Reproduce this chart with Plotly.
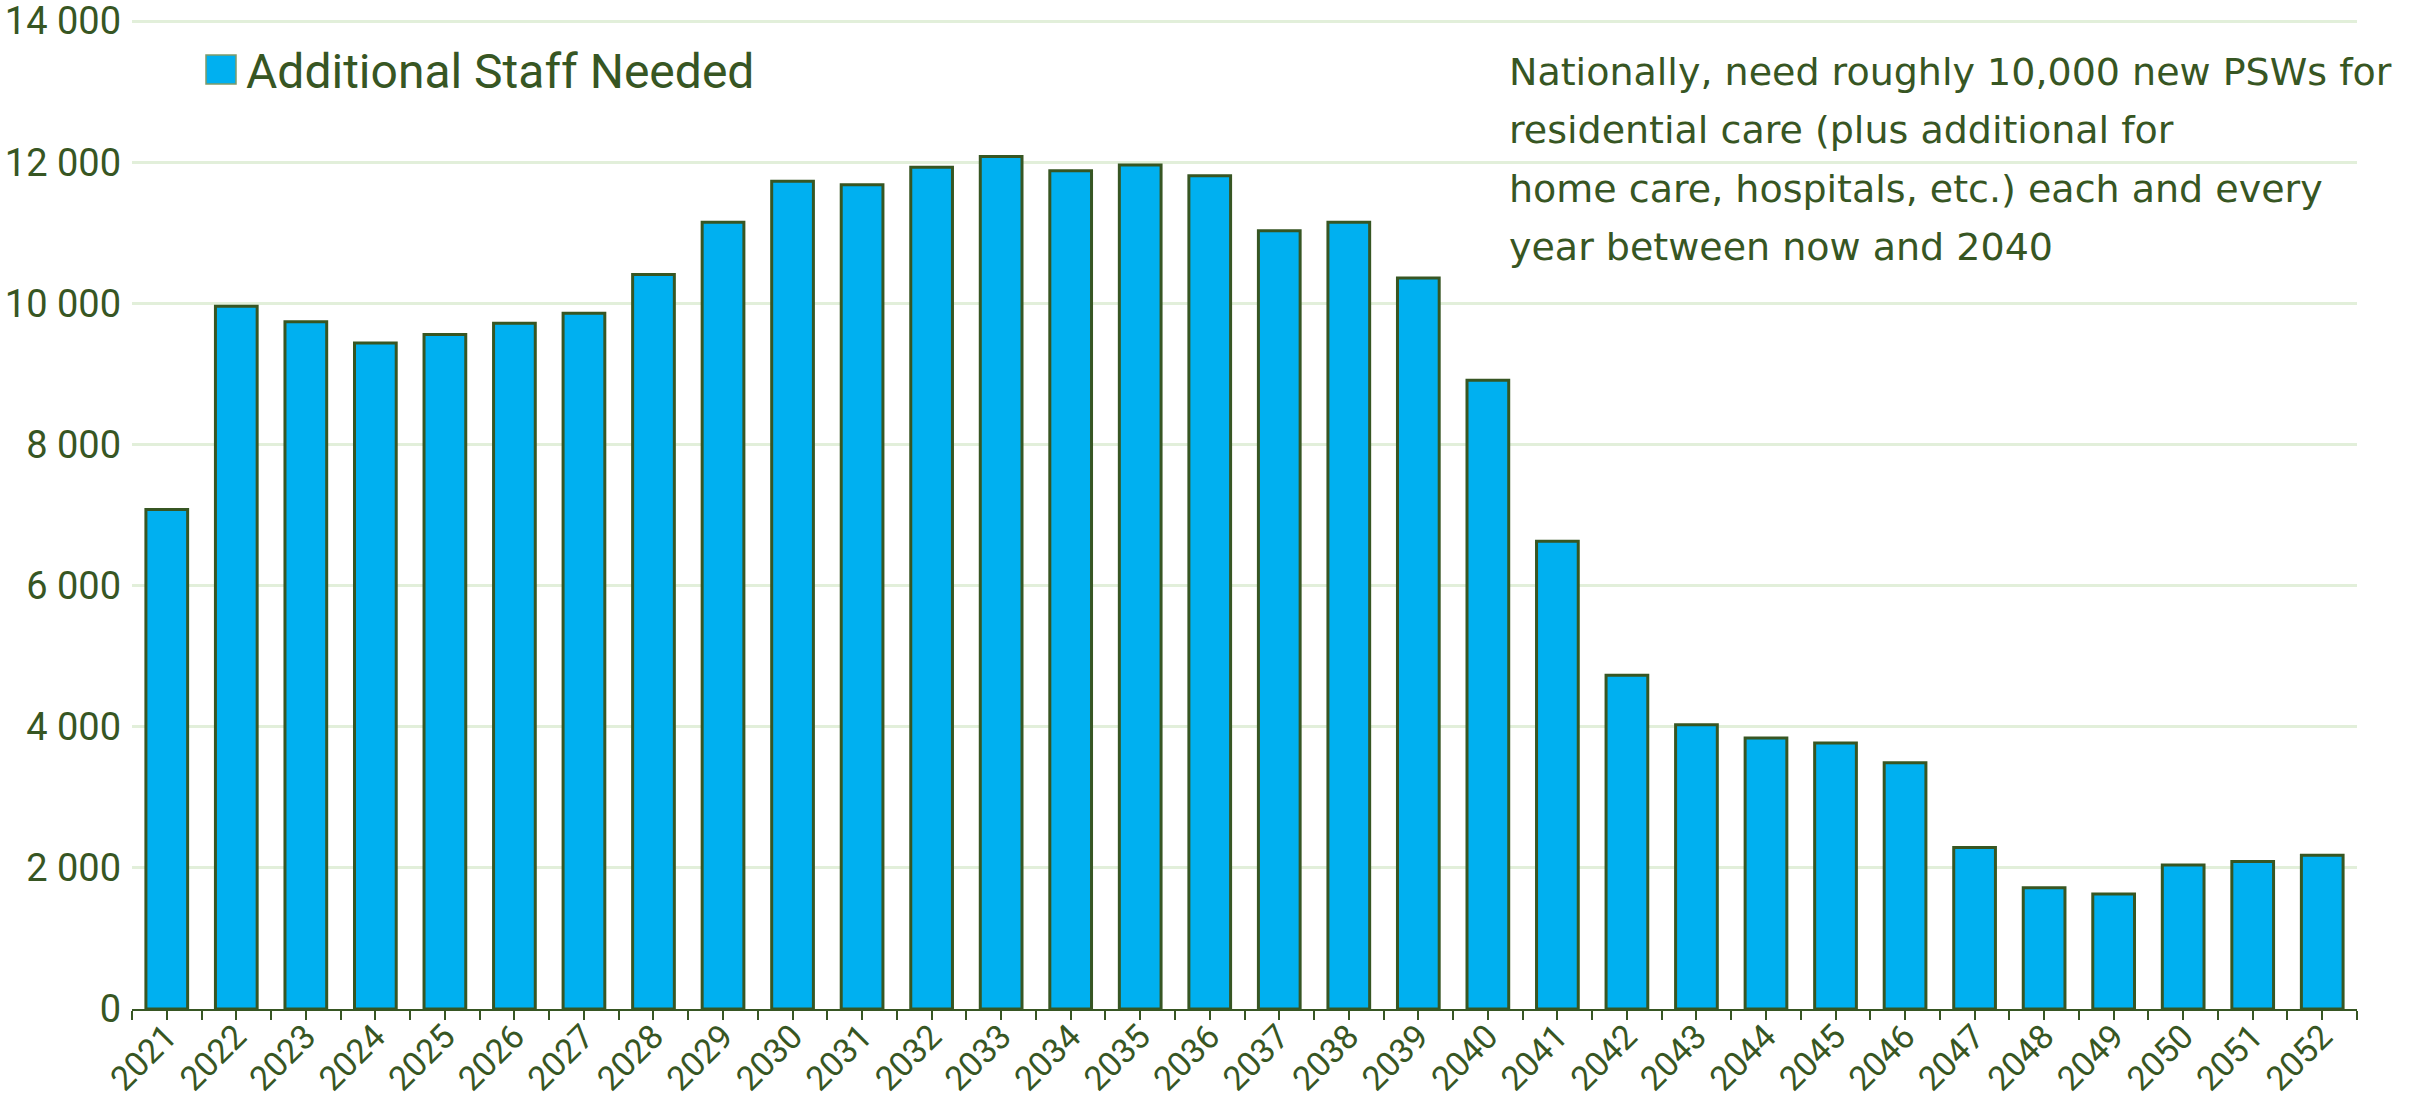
import plotly.graph_objects as go

# Projected additional personal support workers needed per year
years = list(range(2021, 2053))
additional_staff = [
    7080, 9960, 9740, 9440, 9560, 9720, 9860, 10410,
    11150, 11730, 11680, 11930, 12080, 11880, 11960, 11810,
    11030, 11150, 10360, 8910, 6630, 4730, 4030, 3840,
    3770, 3490, 2290, 1720, 1630, 2040, 2090, 2180,
]
series_name = "Additional Staff Needed"
note_lines = [
    "Nationally, need roughly 10,000 new PSWs for",
    "residential care (plus additional for",
    "home care, hospitals, etc.) each and every",
    "year between now and 2040",
]
y_ticks = [0, 2000, 4000, 6000, 8000, 10000, 12000, 14000]
y_max = 14030

# Page geometry
W, H = 2429, 1107
M_L, M_R, M_T, M_B = 132, 72, 19, 98
plot_h = H - M_T - M_B
plot_w = W - M_L - M_R

DARK_GREEN = "#375623"
BAR_BLUE = "#00B0F0"
GRID_GREEN = "#E2EFDA"
TICK_FONT = "Roboto, 'Open Sans', sans-serif"
NOTE_FONT = "'DejaVu Sans', 'Open Sans', sans-serif"


def py(px):
    """Convert a pixel row on the page to paper y."""
    return (H - M_B - px) / plot_h


def pxx(px):
    """Convert a pixel column on the page to paper x."""
    return (px - M_L) / plot_w


x_range = [years[0] - 0.5, years[-1] + 0.5]

fig = go.Figure()
fig.add_trace(go.Bar(
    x=years,
    y=additional_staff,
    name=series_name,
    marker=dict(color=BAR_BLUE, line=dict(color=DARK_GREEN, width=3)),
    showlegend=False,
    hoverinfo="x+y",
))

fig.update_layout(
    width=W,
    height=H,
    margin=dict(l=M_L, r=M_R, t=M_T, b=M_B, pad=0, autoexpand=False),
    paper_bgcolor="white",
    plot_bgcolor="white",
    bargap=0.4,
    separators=". ",
    font=dict(family=TICK_FONT, color=DARK_GREEN),
    xaxis=dict(
        range=x_range,
        tickmode="array",
        tickvals=years,
        ticktext=[str(y) for y in years],
        tickangle=-45,
        tickfont=dict(size=34, color=DARK_GREEN, family=TICK_FONT),
        ticklabelstandoff=-17,
        ticklabeloverflow="allow",
        ticks="outside",
        ticklen=9,
        tickwidth=2,
        tickcolor=DARK_GREEN,
        minor=dict(
            tickmode="linear", tick0=x_range[0], dtick=1,
            ticks="outside", ticklen=9, tickwidth=2, tickcolor=DARK_GREEN,
            showgrid=False,
        ),
        showline=True,
        linecolor=DARK_GREEN,
        linewidth=2,
        showgrid=False,
        zeroline=False,
        automargin=False,
        fixedrange=True,
    ),
    # Overlay axis supplying the upward half of the cross ticks at category boundaries
    xaxis2=dict(
        overlaying="x",
        anchor="y",
        range=x_range,
        tickmode="linear",
        tick0=x_range[0],
        dtick=1,
        ticks="inside",
        ticklen=8,
        tickwidth=2,
        tickcolor=DARK_GREEN,
        showticklabels=False,
        showline=False,
        showgrid=False,
        zeroline=False,
        automargin=False,
    ),
    yaxis=dict(
        range=[0, y_max],
        tickmode="array",
        tickvals=y_ticks,
        tickformat=",d",
        tickfont=dict(size=38, color=DARK_GREEN, family=TICK_FONT),
        ticklabelstandoff=10,
        ticklabeloverflow="allow",
        showgrid=True,
        gridcolor=GRID_GREEN,
        gridwidth=3,
        showline=False,
        zeroline=False,
        ticks="",
        automargin=False,
        fixedrange=True,
    ),
)

# Legend key: blue square followed by the series name
fig.add_shape(
    type="rect", xref="paper", yref="paper",
    x0=pxx(206), x1=pxx(236), y0=py(84), y1=py(55),
    fillcolor=BAR_BLUE, line=dict(color="#7E9A6A", width=1.5),
)
fig.add_annotation(
    xref="paper", yref="paper", x=pxx(244), y=py(71),
    xanchor="left", yanchor="middle", showarrow=False,
    text=series_name,
    font=dict(size=48, color=DARK_GREEN, family=TICK_FONT),
)

# Explanatory note, one line per annotation to control line spacing
first_line_mid = 72
line_step = 58.4
for i, line in enumerate(note_lines):
    fig.add_annotation(
        xref="paper", yref="paper",
        x=pxx(1507), y=py(first_line_mid + i * line_step),
        xanchor="left", yanchor="middle", showarrow=False,
        text=line,
        font=dict(size=38, color=DARK_GREEN, family=NOTE_FONT),
    )

fig.write_html("out.html", config={"displayModeBar": False})
